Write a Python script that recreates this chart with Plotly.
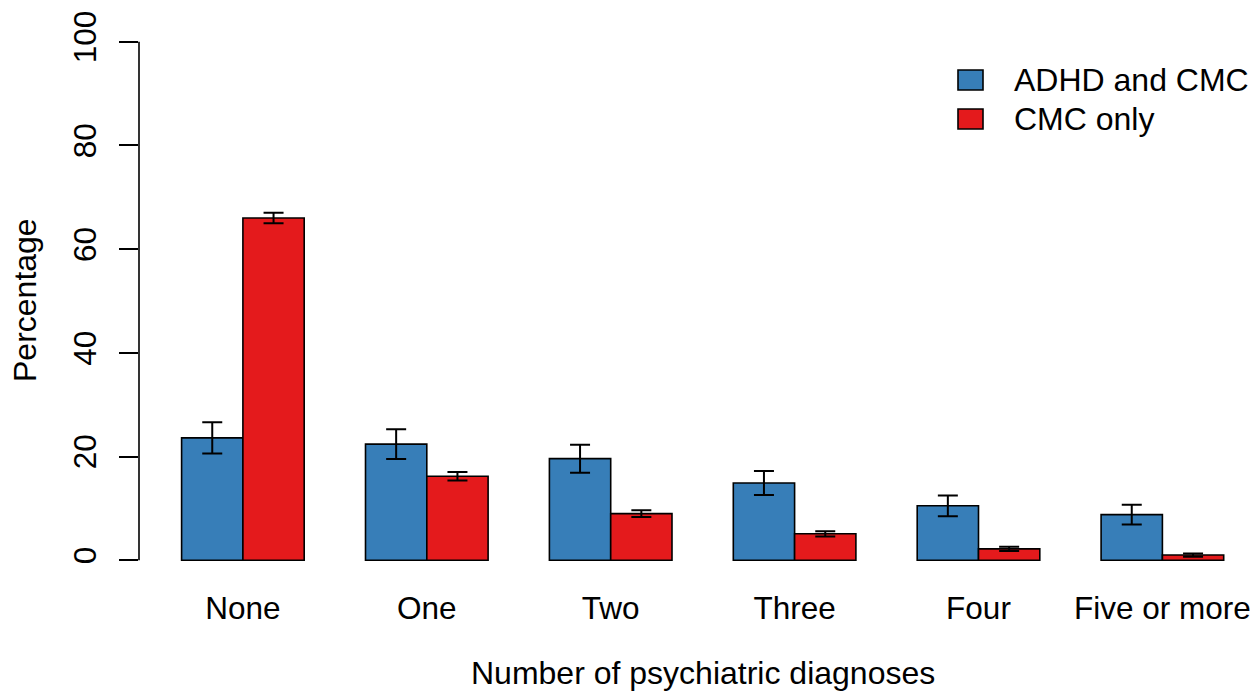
import plotly.graph_objects as go

categories = ["None", "One", "Two", "Three", "Four", "Five or more"]
adhd_cmc = [23.6, 22.4, 19.6, 14.9, 10.5, 8.8]
adhd_cmc_err = [3.0, 2.85, 2.7, 2.3, 2.0, 1.9]
cmc_only = [66.0, 16.2, 9.0, 5.1, 2.2, 1.0]
cmc_only_err = [1.0, 0.8, 0.65, 0.5, 0.4, 0.3]
series_names = ["ADHD and CMC", "CMC only"]
colors = ["#377EB8", "#E41A1C"]
y_ticks = [0, 20, 40, 60, 80, 100]

FONT = "Liberation Sans, Arial, Helvetica, sans-serif"
W, H = 1255, 691
ML, MR, MT, MB = 139, 0, 21, 110
PW, PH = W - ML - MR, H - MT - MB

fig = go.Figure()
for name, vals, errs, col in [
    (series_names[0], adhd_cmc, adhd_cmc_err, colors[0]),
    (series_names[1], cmc_only, cmc_only_err, colors[1]),
]:
    fig.add_trace(go.Bar(
        x=categories, y=vals, name=name,
        marker=dict(color=col, line=dict(color="black", width=1.6)),
        error_y=dict(type="data", array=errs, visible=True,
                     color="black", thickness=2, width=10),
        showlegend=False,
    ))

# y axis line spanning 0..100 (R style)
fig.add_shape(type="line", xref="paper", yref="y", x0=0, x1=0,
              y0=y_ticks[0], y1=y_ticks[-1], line=dict(color="black", width=1.6))

def px_x(px):
    return (px - ML) / PW

def px_y(py):
    return (H - MB - py) / PH

# manual legend
for i, (name, col) in enumerate(zip(series_names, colors)):
    yc = 80 + 39 * i
    fig.add_shape(type="rect", xref="paper", yref="paper",
                  x0=px_x(958), x1=px_x(983), y0=px_y(yc + 10), y1=px_y(yc - 10),
                  fillcolor=col, line=dict(color="black", width=1.6))
    fig.add_annotation(x=px_x(1012), y=px_y(yc), xref="paper", yref="paper",
                       text=name, showarrow=False, xanchor="left", yanchor="middle",
                       font=dict(size=32, color="black", family=FONT))

# axis titles
fig.add_annotation(x=px_x(25), y=px_y(300), xref="paper", yref="paper",
                   text="Percentage", textangle=-90, showarrow=False,
                   xanchor="center", yanchor="middle",
                   font=dict(size=32, color="black", family=FONT))
fig.add_annotation(x=px_x(703), y=px_y(673), xref="paper", yref="paper",
                   text="Number of psychiatric diagnoses", showarrow=False,
                   xanchor="center", yanchor="middle",
                   font=dict(size=32, color="black", family=FONT))

fig.update_layout(
    width=W, height=H,
    margin=dict(l=ML, r=MR, t=MT, b=MB, pad=0),
    paper_bgcolor="white", plot_bgcolor="white",
    barmode="group", bargap=1/3, bargroupgap=0,
    font=dict(family=FONT, size=31, color="black"),
    xaxis=dict(range=[-0.565, -0.565 + PW / 183.9], showgrid=False, zeroline=False,
               showline=False, ticks="", tickfont=dict(size=31.5),
               ticklabelstandoff=5),
    yaxis=dict(range=[-4, 104], tickvals=y_ticks, showgrid=False, zeroline=False,
               showline=False, ticks="outside", ticklen=19, tickwidth=1.6,
               tickcolor="black", tickangle=-90, tickfont=dict(size=31.5),
               ticklabelstandoff=10),
)

fig.write_html("out.html", config={"displayModeBar": False},
               post_script="document.body.style.margin='0';document.body.style.overflow='hidden';")
